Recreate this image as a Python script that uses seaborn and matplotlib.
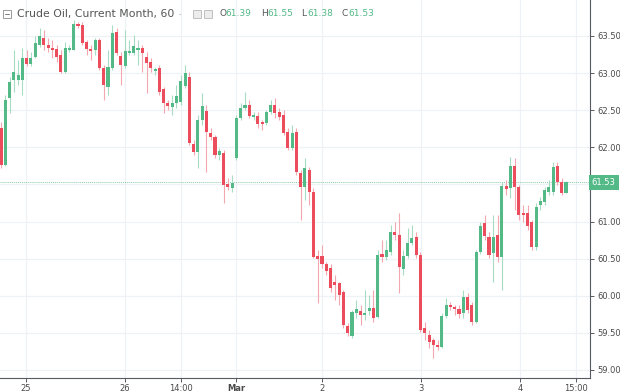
import numpy as np
import matplotlib
matplotlib.use("Agg")
import matplotlib.pyplot as plt
import matplotlib.transforms as mtransforms
from matplotlib.patches import Rectangle
import seaborn as sns

# ---- data (hourly candles, price in USD) ----
opens = [62.26, 61.76, 62.66, 62.91, 62.91, 62.91, 63.20, 63.12, 63.22, 63.38,
         63.47, 63.38, 63.34, 63.32, 63.24, 63.01, 63.31, 63.31, 63.66, 63.65,
         63.42, 63.32, 63.31, 63.45, 63.07, 62.81, 63.07, 63.55, 63.23, 63.10,
         63.27, 63.27, 63.31, 63.34, 63.22, 63.15, 63.03, 63.07, 62.79, 62.60,
         62.54, 62.60, 62.61, 62.83, 62.95, 62.04, 61.94, 62.37, 62.49, 62.19,
         62.14, 61.90, 61.92, 61.51, 61.45, 61.86, 62.39, 62.53, 62.57, 62.41,
         62.42, 62.34, 62.33, 62.48, 62.57, 62.48, 62.44, 62.21, 61.99, 62.21,
         61.65, 61.46, 61.69, 61.40, 60.54, 60.54, 60.43, 60.37, 60.18, 60.17,
         60.05, 59.59, 59.46, 59.77, 59.79, 59.74, 59.79, 59.83, 59.71, 60.56,
         60.52, 60.59, 60.86, 60.82, 60.36, 60.54, 60.71, 60.79, 60.55, 59.56,
         59.47, 59.40, 59.34, 59.31, 59.73, 59.87, 59.85, 59.82, 59.77, 59.98,
         59.87, 59.65, 60.59, 60.98, 60.79, 60.58, 60.82, 60.52, 61.48, 61.45,
         61.75, 61.46, 61.11, 61.11, 60.99, 60.66, 61.22, 61.26, 61.40, 61.40,
         61.75, 61.53, 61.39]
highs = [62.34, 62.71, 62.95, 63.31, 63.18, 63.34, 63.31, 63.28, 63.50, 63.61,
         63.58, 63.47, 63.45, 63.38, 63.31, 63.42, 63.38, 63.72, 63.69, 63.69,
         63.45, 63.38, 63.47, 63.47, 63.11, 63.31, 63.65, 63.61, 63.28, 63.58,
         63.45, 63.51, 63.45, 63.38, 63.28, 63.20, 63.08, 63.11, 62.81, 62.64,
         62.71, 62.84, 62.97, 63.11, 63.01, 62.10, 62.44, 62.73, 62.57, 62.26,
         62.17, 61.99, 61.96, 61.59, 61.63, 62.44, 62.60, 62.75, 62.64, 62.48,
         62.48, 62.37, 62.50, 62.64, 62.66, 62.53, 62.50, 62.26, 62.30, 62.26,
         61.69, 61.86, 61.73, 61.45, 60.62, 60.68, 60.45, 60.43, 60.28, 60.18,
         60.08, 59.63, 59.81, 59.94, 59.87, 60.08, 60.01, 60.08, 60.62, 60.75,
         60.75, 60.95, 60.99, 61.11, 60.62, 60.91, 60.95, 60.86, 60.59, 59.65,
         59.54, 59.43, 59.40, 59.77, 59.97, 59.92, 59.87, 59.87, 60.08, 60.04,
         59.92, 60.62, 60.99, 61.09, 60.86, 61.09, 61.09, 61.53, 61.56, 61.87,
         61.86, 61.49, 61.22, 61.22, 61.02, 61.25, 61.33, 61.46, 61.56, 61.80,
         61.80, 61.59, 61.55]
lows = [61.72, 61.75, 62.46, 62.75, 62.84, 62.71, 63.10, 63.10, 63.20, 63.35,
        63.31, 63.28, 63.20, 63.15, 63.00, 63.00, 63.28, 63.31, 63.61, 63.38,
        63.24, 63.18, 63.24, 63.04, 62.64, 62.71, 63.04, 63.24, 62.84, 63.07,
        63.24, 63.24, 63.11, 63.01, 62.73, 63.01, 62.97, 62.71, 62.46, 62.50,
        62.44, 62.53, 62.57, 62.80, 62.03, 61.90, 61.72, 62.30, 61.67, 62.10,
        61.86, 61.83, 61.25, 61.42, 61.40, 61.83, 62.37, 62.50, 62.39, 62.37,
        62.26, 62.23, 62.30, 62.45, 62.39, 62.37, 62.17, 61.96, 61.96, 61.63,
        61.02, 61.29, 61.22, 60.51, 59.90, 60.37, 60.28, 60.05, 59.94, 59.87,
        59.56, 59.46, 59.43, 59.70, 59.61, 59.67, 59.74, 59.65, 59.70, 60.45,
        60.48, 60.55, 60.75, 60.04, 60.28, 60.51, 60.68, 60.51, 59.51, 59.40,
        59.30, 59.16, 59.27, 59.30, 59.70, 59.81, 59.74, 59.70, 59.70, 59.77,
        59.61, 59.63, 60.56, 60.75, 60.51, 60.18, 60.45, 60.08, 61.36, 61.32,
        61.16, 61.02, 60.99, 60.89, 60.62, 60.62, 61.16, 61.22, 61.36, 61.36,
        61.49, 61.36, 61.38]
closes = [61.76, 62.64, 62.88, 63.01, 62.97, 63.20, 63.12, 63.20, 63.41, 63.50,
          63.38, 63.34, 63.31, 63.22, 63.01, 63.34, 63.34, 63.66, 63.63, 63.41,
          63.32, 63.30, 63.45, 63.07, 62.84, 63.08, 63.54, 63.27, 63.11, 63.30,
          63.30, 63.37, 63.34, 63.27, 63.14, 63.07, 63.06, 62.75, 62.60, 62.56,
          62.60, 62.69, 62.89, 63.00, 62.06, 61.94, 62.37, 62.56, 62.21, 62.14,
          61.90, 61.95, 61.49, 61.46, 61.52, 62.39, 62.53, 62.57, 62.42, 62.44,
          62.31, 62.31, 62.48, 62.57, 62.46, 62.41, 62.19, 61.99, 62.19, 61.67,
          61.46, 61.72, 61.40, 60.52, 60.49, 60.43, 60.33, 60.10, 60.14, 60.01,
          59.61, 59.50, 59.78, 59.82, 59.74, 59.77, 59.83, 59.70, 60.55, 60.52,
          60.62, 60.86, 60.82, 60.39, 60.54, 60.71, 60.78, 60.55, 59.54, 59.50,
          59.38, 59.34, 59.31, 59.73, 59.87, 59.85, 59.82, 59.75, 59.98, 59.81,
          59.65, 60.59, 60.94, 60.80, 60.55, 60.79, 60.52, 61.48, 61.44, 61.75,
          61.46, 61.09, 61.09, 60.94, 60.66, 61.20, 61.28, 61.42, 61.46, 61.73,
          61.53, 61.38, 61.53]

price_ticks = [59.0, 59.5, 60.0, 60.5, 61.0, 61.5, 62.0, 62.5, 63.0, 63.5]
price_labels = ["59.00", "59.50", "60.00", "60.50", "61.00", "", "62.00", "62.50", "63.00", "63.50"]
time_ticks = [5.8, 29.0, 42.1, 54.9, 75.0, 98.1, 121.3, 134.3]
time_labels = ["25", "26", "14:00", "Mar", "2", "3", "4", "15:00"]
last_price = 61.53
title = "Crude Oil, Current Month, 60"

# ---- style ----
sns.set_theme(style="white")
plt.rcParams["font.family"] = ["DejaVu Sans"]

GREEN = "#53b987"
RED = "#eb4d5c"
GREEN_W = "#a6dcc2"
RED_W = "#f4a7b0"
GRID = "#eef1f5"
AXC = "#555a63"
TXT = "#4a4a4a"

fig = plt.figure(figsize=(6.2, 3.92), dpi=100)
fig.patch.set_facecolor("white")
ax = fig.add_axes([0.0, 14 / 392, 590 / 620, 378 / 392])
ax.set_facecolor("white")

o = np.array(opens); h = np.array(highs); l = np.array(lows); c = np.array(closes)
x = np.arange(len(o))
up = c >= o
body_lo = np.minimum(o, c)
body_h = np.maximum(np.abs(c - o), 0.014)

# wicks
ax.vlines(x[up], l[up], h[up], color=GREEN_W, lw=0.8, zorder=2)
ax.vlines(x[~up], l[~up], h[~up], color=RED_W, lw=0.8, zorder=2)
# bodies
ax.bar(x[up], body_h[up], bottom=body_lo[up], width=0.72, color=GREEN, lw=0, zorder=3)
ax.bar(x[~up], body_h[~up], bottom=body_lo[~up], width=0.72, color=RED, lw=0, zorder=3)

ax.set_xlim(-0.23, 137.6)
ax.set_ylim(58.891, 63.985)

# grid
ax.set_yticks(price_ticks)
ax.set_yticklabels(price_labels)
ax.set_xticks(time_ticks)
ax.set_xticklabels(time_labels)
ax.grid(True, color=GRID, lw=0.9, zorder=0)
ax.set_axisbelow(True)

ax.yaxis.tick_right()
ax.tick_params(axis="y", which="both", right=True, left=False, length=3, width=0.7,
               color=AXC, labelsize=6, labelcolor=TXT, pad=2)
ax.tick_params(axis="x", which="both", bottom=True, length=3, width=0.7,
               color=AXC, labelsize=6, labelcolor=TXT, pad=1.5)
for lab in ax.get_xticklabels():
    if lab.get_text() == "Mar":
        lab.set_fontweight("bold")

for s in ["top", "left"]:
    ax.spines[s].set_visible(False)
for s in ["right", "bottom"]:
    ax.spines[s].set_visible(True)
    ax.spines[s].set_color(AXC)
    ax.spines[s].set_linewidth(0.8)

# last price line and label
ax.axhline(last_price, color=GREEN, lw=0.7, ls=(0, (1, 1)), alpha=0.7, zorder=1)
trans = mtransforms.blended_transform_factory(ax.transAxes, ax.transData)
ax.text(1.003, last_price, f"{last_price:.2f}", transform=trans, ha="left", va="center",
        fontsize=6, color="white", clip_on=False,
        bbox=dict(boxstyle="square,pad=0.35", fc=GREEN, ec="none"))

# header
W, H = 620, 392
def fx(px):
    return px / W
def fy(py):
    return 1 - py / H

fig.add_artist(Rectangle((fx(3), fy(18)), 8 / W, 8 / H, transform=fig.transFigure,
                         fc="white", ec="#9a9a9a", lw=0.7))
fig.add_artist(plt.Line2D([fx(5), fx(9)], [fy(14), fy(14)], transform=fig.transFigure,
                          color="#7a7a7a", lw=0.7))
fig.text(fx(17), fy(14), title, fontsize=7.8, color="#555555", ha="left", va="center")
fig.text(fx(179), fy(14), "-", fontsize=5, color="#9a9a9a", ha="left", va="center")
for px0 in (193, 204):
    fig.add_artist(Rectangle((fx(px0), fy(18)), 8 / W, 8 / H, transform=fig.transFigure,
                             fc="#ececec", ec="#b8b8b8", lw=0.6))
ohlc = [("O", opens[-1], 219), ("H", highs[-1], 261), ("L", lows[-1], 301), ("C", closes[-1], 342)]
for letter, val, px0 in ohlc:
    fig.text(fx(px0), fy(14), letter, fontsize=6.5, color="#555555", ha="left", va="center")
    fig.text(fx(px0 + 6.5), fy(14), f"{val:.2f}", fontsize=6.5, color=GREEN, ha="left", va="center")

fig.savefig("out.png", dpi=100, facecolor="white")
